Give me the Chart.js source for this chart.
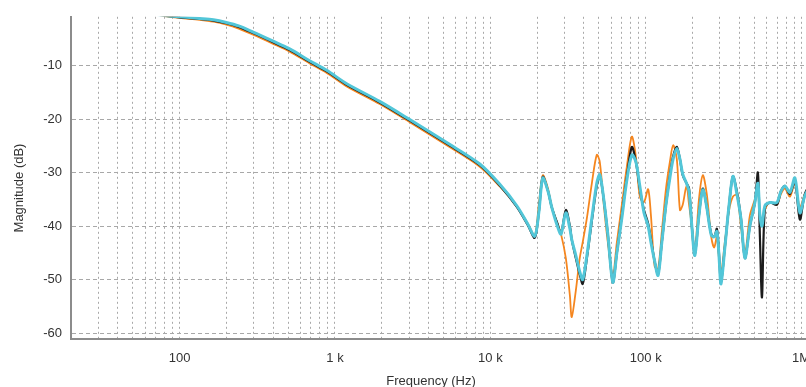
<!DOCTYPE html>
<html>
<head>
<meta charset="utf-8">
<script src="https://cdn.jsdelivr.net/npm/chart.js@4.4.1/dist/chart.umd.min.js"></script>
<style>
  html, body { margin: 0; padding: 0; background: #fff; }
  #frame { width: 806px; height: 387px; overflow: hidden; }
  #box { width: 830px; height: 395px; }
</style>
</head>
<body>
<div id="frame"><div id="box"><canvas id="chart"></canvas></div></div>
<script>
// shared frequency grid (Hz)
const freqHz = [
  20, 41, 64, 80, 100, 134, 165, 200, 240, 295, 397, 511,
  687, 885, 1190, 1940, 3030, 5240, 8550, 11500, 14800, 17400,
  19300, 20500, 21750, 23500, 24850, 27000, 28500, 30600, 32500, 33400,
  35500, 37600, 39300, 41800, 45000, 48400, 50600, 53700, 57000, 61400,
  65200, 70200, 75500, 81400, 86400, 91600, 97400, 103600, 108000, 114000,
  120000, 127000, 135000, 143000, 150000, 158500, 166000, 173000, 183000, 190000,
  198000, 207000, 220000, 233000, 247000, 264000, 276000, 287000, 296000, 305000,
  323000, 344000, 364000, 386000, 410000, 435000, 468000, 504000, 527000, 543000,
  560000, 585000, 630000, 698000, 741000, 787000, 847000, 912000, 982000, 1057000, 1175000
];

// magnitude in dB
const magBlack = [
  -0.05, -0.1, -0.3, -0.7, -1.0, -1.3, -1.6, -2.1, -2.8, -3.9, -5.6, -7.1,
  -9.3, -11.1, -13.6, -16.9, -20.3, -24.6, -28.6, -32.4, -36.4, -39.8,
  -42.2, -37.5, -30.8, -33.5, -36.5, -39.5, -41.3, -37, -40, -42.5,
  -46, -49, -50.8, -46, -39, -32.5, -30.6, -35, -41.5, -50.5,
  -45, -38, -31, -25.2, -28, -33, -37, -39.5, -42.5, -46.5,
  -49, -43, -36, -30.5, -27, -25.2, -27.5, -30.5, -32, -33,
  -40, -45.3, -38, -33, -36.5, -41.5, -42, -40.5, -45, -50.5,
  -44, -36, -30.7, -33.5, -38.5, -46, -40, -35.6, -30, -42,
  -53.3, -36.5, -35.6, -36, -33.5, -32.5, -34, -31.5, -38.8, -34, -31.5
];
const magOrange = [
  -0.05, -0.1, -0.3, -0.75, -1.1, -1.45, -1.8, -2.35, -3.1, -4.2, -5.9, -7.4,
  -9.6, -11.4, -13.9, -17.2, -20.6, -24.9, -28.9, -32.6, -36.3, -39.5,
  -41.8, -36, -30.5, -33, -36.5, -39.5, -41.5, -46, -53, -57,
  -52, -46, -43, -38.5, -32, -26.7, -28, -36, -43, -49,
  -43, -36, -29, -23.3, -27, -34.5, -35.5, -33.1, -38, -47.5,
  -48, -41, -33, -28, -24.9, -27.5, -37, -36, -32.5, -36,
  -40, -45, -35, -30.5, -34, -42, -44, -42, -46, -49,
  -43, -37, -34.5, -34.2, -40, -45.3, -38, -35, -33, -38,
  -40, -37, -35.5, -36, -34, -33, -34.5, -32, -36.5, -34, -32
];
const magCyan = [
  -0.05, -0.1, -0.3, -0.65, -0.9, -1.2, -1.45, -1.95, -2.6, -3.7, -5.4, -6.9,
  -9.1, -10.9, -13.4, -16.7, -20.1, -24.4, -28.4, -32.2, -36.2, -39.6,
  -41.9, -37.5, -31, -33.5, -36.5, -40, -41.5, -37.5, -40.5, -42.5,
  -45.5, -48.5, -50, -45.5, -38.5, -32, -30.4, -35, -41.5, -50.5,
  -45, -38.5, -31.5, -26.7, -28, -32.5, -37.5, -40, -43, -46.5,
  -49.2, -43, -36, -31, -27.5, -25.5, -27.5, -30.3, -32, -33.5,
  -40, -45.5, -38, -33.2, -36.5, -41.7, -42, -41, -45.5, -50.8,
  -44, -36, -30.7, -34, -38.6, -46, -40, -35.6, -32, -38,
  -40, -36.2, -35.6, -35.6, -33.5, -32.5, -33.7, -31, -37.5, -34.3, -32
];

const xTickValues = [100, 1000, 10000, 100000, 1000000];
const xTickLabels = ['100', '1 k', '10 k', '100 k', '1M'];
const yTickValues = [-60, -50, -40, -30, -20, -10];

const X_MIN = 20, X_MAX = 1175000;

// 1..9 per decade for the dotted vertical grid
const xGrid = [];
for (let d = 10; d <= 1e6; d *= 10) {
  for (let m = 1; m <= 9; m++) {
    const v = d * m;
    if (v >= X_MIN && v <= X_MAX) xGrid.push(v);
  }
}

const toPoints = (ys) => freqHz.map((f, i) => ({ x: f, y: ys[i] }));

const axisTitles = {
  id: 'axisTitles',
  afterDraw(chart) {
    const { ctx, chartArea } = chart;
    ctx.save();
    ctx.fillStyle = '#333';
    ctx.font = '13px "Liberation Sans", Arial, sans-serif';
    ctx.textAlign = 'center';
    ctx.textBaseline = 'middle';
    ctx.fillText('Frequency (Hz)', 431, chartArea.bottom + 43);
    ctx.translate(19, 188);
    ctx.rotate(-Math.PI / 2);
    ctx.fillText('Magnitude (dB)', 0, 0);
    ctx.restore();
  }
};

Chart.defaults.font.family = '"Liberation Sans", Arial, sans-serif';
Chart.defaults.color = '#333';

new Chart(document.getElementById('chart').getContext('2d'), {
  type: 'line',
  data: {
    datasets: [
      { label: 'C', data: toPoints(magCyan), borderColor: '#52c6d8', borderWidth: 3 },
      { label: 'K', data: toPoints(magBlack), borderColor: '#1c1c1c', borderWidth: 2.2 },
      { label: 'O', data: toPoints(magOrange), borderColor: '#f5861f', borderWidth: 1.8 }
    ]
  },
  options: {
    responsive: true,
    maintainAspectRatio: false,
    animation: false,
    layout: { padding: { top: 11, right: 18, left: 0, bottom: 0 } },
    elements: {
      point: { radius: 0 },
      line: { tension: 0.3, fill: false, borderJoinStyle: 'round', borderCapStyle: 'round' }
    },
    plugins: { legend: { display: false }, tooltip: { enabled: false } },
    scales: {
      x: {
        type: 'logarithmic',
        min: X_MIN,
        max: X_MAX,
        afterBuildTicks: (scale) => { scale.ticks = xGrid.map(v => ({ value: v })); },
        afterFit: (scale) => { scale.height = 56.5; },
        ticks: {
          autoSkip: false,
          maxRotation: 0,
          padding: 12,
          color: '#333',
          font: { size: 13 },
          callback: (val) => {
            const i = xTickValues.indexOf(val);
            return i >= 0 ? xTickLabels[i] : '';
          }
        },
        grid: { color: '#a8a8a8', lineWidth: 1, drawTicks: false },
        border: { display: true, color: '#8c8c8c', width: 2, dash: [2, 3] }
      },
      y: {
        min: -61,
        max: -0.9,
        afterBuildTicks: (scale) => { scale.ticks = yTickValues.map(v => ({ value: v })); },
        afterFit: (scale) => { scale.width = 71; },
        ticks: { padding: 9, color: '#333', font: { size: 13 } },
        grid: { color: '#a8a8a8', lineWidth: 1, drawTicks: false },
        border: { display: true, color: '#8c8c8c', width: 2, dash: [4, 3] }
      }
    }
  },
  plugins: [axisTitles]
});
</script>
</body>
</html>
